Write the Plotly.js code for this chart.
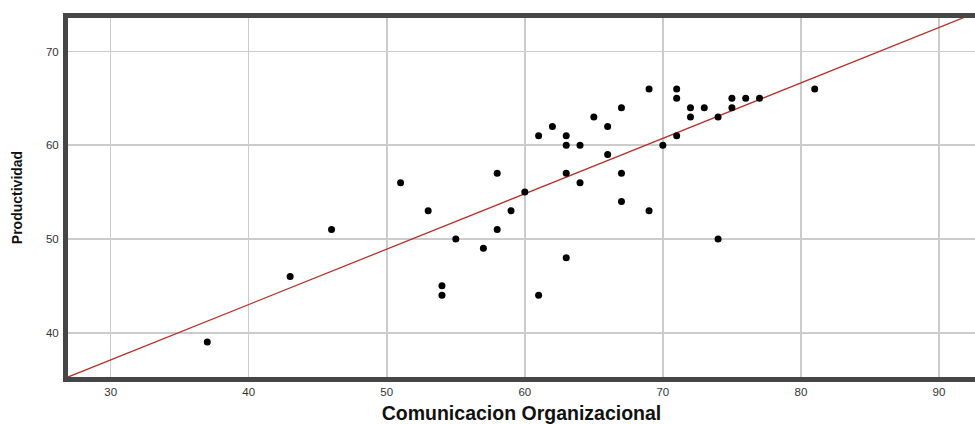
<!DOCTYPE html>
<html>
<head>
<meta charset="utf-8">
<script src="https://cdn.plot.ly/plotly-3.0.1.min.js"></script>
<style>html,body{margin:0;padding:0;background:#fff;}#chart{width:975px;height:424px;}</style>
</head>
<body>
<div id="chart"></div>
<script>
// Comunicacion Organizacional (x) vs Productividad (y)
var comunicacion = [37, 43, 46, 51, 53, 54, 54, 55, 57, 58, 58, 59, 60, 61, 61, 62,
  63, 63, 63, 63, 64, 64, 65, 66, 66, 67, 67, 67, 69, 69, 70, 71, 71, 71,
  72, 72, 73, 74, 74, 75, 75, 76, 77, 81];
var productividad = [39, 46, 51, 56, 53, 45, 44, 50, 49, 57, 51, 53, 55, 61, 44, 62,
  61, 60, 57, 48, 60, 56, 63, 62, 59, 64, 57, 54, 66, 53, 60, 66, 65, 61,
  64, 63, 64, 63, 50, 65, 64, 65, 65, 66];
var xTicks = [30, 40, 50, 60, 70, 80, 90];
var yTicks = [40, 50, 60, 70];
var xRange = [26.91, 92.61];
var yRange = [35.28, 73.57];

// least-squares fit line
var n = comunicacion.length, sx = 0, sy = 0, sxx = 0, sxy = 0;
for (var i = 0; i < n; i++) {
  sx += comunicacion[i]; sy += productividad[i];
  sxx += comunicacion[i] * comunicacion[i]; sxy += comunicacion[i] * productividad[i];
}
var slope = (n * sxy - sx * sy) / (n * sxx - sx * sx);
var intercept = (sy - slope * sx) / n;
var fitX = [xRange[0], xRange[1]];
var fitY = fitX.map(function (v) { return intercept + slope * v; });

var traces = [
  {
    x: fitX, y: fitY, type: 'scatter', mode: 'lines',
    line: {color: '#b5322c', width: 1.3}, hoverinfo: 'skip', cliponaxis: true
  },
  {
    x: comunicacion, y: productividad, type: 'scatter', mode: 'markers',
    marker: {color: '#000', size: 7, line: {width: 0}}
  }
];

var layout = {
  width: 975, height: 424,
  margin: {l: 68, r: 0, t: 18, b: 47},
  paper_bgcolor: '#fff', plot_bgcolor: '#fff',
  showlegend: false,
  font: {family: 'Liberation Sans, Arial, sans-serif', color: '#333', size: 11},
  xaxis: {
    range: xRange, tickvals: xTicks, ticktext: xTicks.map(String),
    showgrid: true, gridcolor: '#cccccc', gridwidth: 1.5, zeroline: false,
    showline: true, linecolor: '#464646', linewidth: 5, mirror: true,
    ticks: '', tickfont: {size: 11.5, color: '#333'},
    title: {text: 'Comunicacion Organizacional', font: {size: 19.5, color: '#111', family: 'Liberation Sans, Arial, sans-serif', weight: 'bold'}, standoff: 13}
  },
  yaxis: {
    range: yRange, tickvals: yTicks, ticktext: yTicks.map(String),
    showgrid: true, gridcolor: '#cccccc', gridwidth: 1.5, zeroline: false,
    showline: true, linecolor: '#464646', linewidth: 5, mirror: false,
    ticks: '', tickfont: {size: 11.5, color: '#333'}, ticklabelstandoff: 2,
    title: {text: 'Productividad', font: {size: 14, color: '#111', family: 'Liberation Sans, Arial, sans-serif', weight: 'bold'}, standoff: 22}
  }
};

Plotly.newPlot('chart', traces, layout, {displayModeBar: false, staticPlot: true});
</script>
</body>
</html>
